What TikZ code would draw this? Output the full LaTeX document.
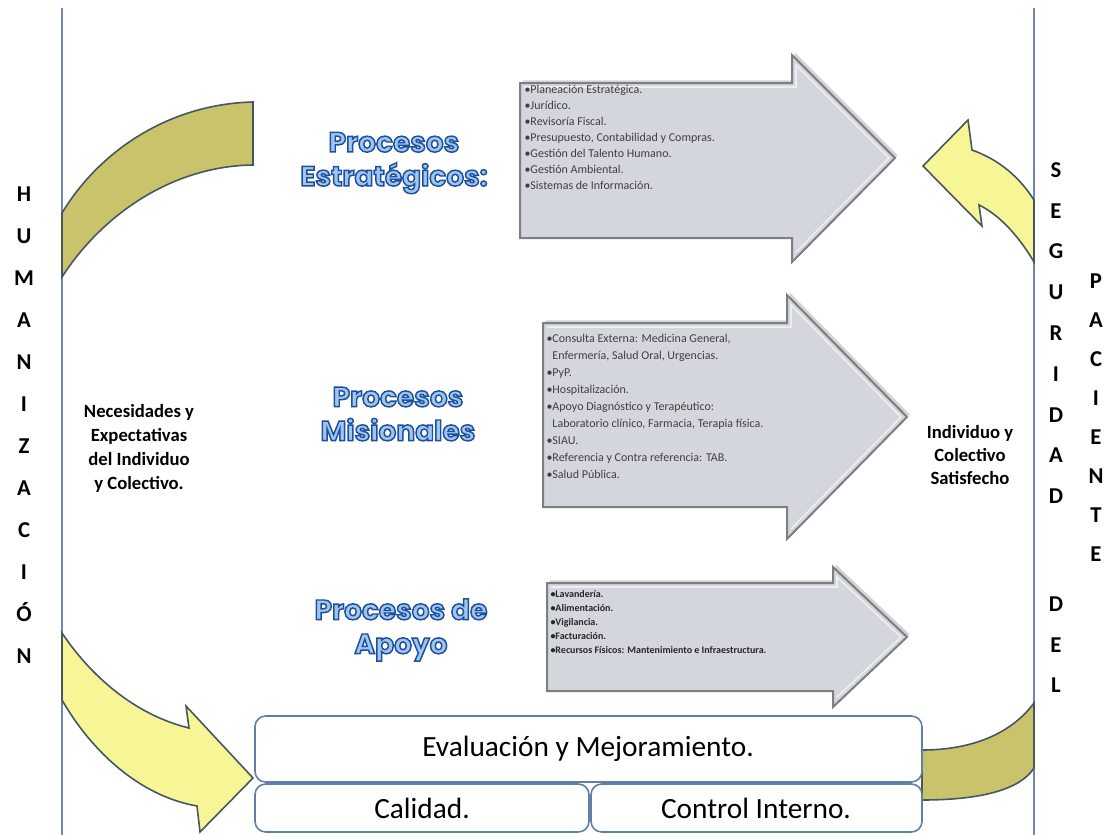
\documentclass[tikz,border=0pt]{standalone}
\usepackage{fontspec}
\setmainfont{Carlito}
\newfontfamily\wordartfont{Poppins}
\usetikzlibrary{shadows}
\tikzset{every picture/.style={line width=0.75pt}}
\definecolor{olivearc}{RGB}{201,195,108}
\definecolor{yellowarr}{RGB}{247,246,150}
\definecolor{arcline}{RGB}{72,86,96}
\definecolor{grayarr}{RGB}{212,214,222}
\definecolor{grayedge}{RGB}{125,125,130}
\definecolor{sideline}{RGB}{110,134,186}
\definecolor{boxline}{RGB}{96,128,168}
\definecolor{titlefill}{RGB}{160,198,238}
% outlined title letters: fill colour, then a dark blue stroke
\newcommand{\wordart}[1]{\textcolor{titlefill}{\special{pdf:literal direct 2 Tr 1.1 w 0.11 0.31 0.62 RG}#1\special{pdf:literal direct 0 Tr}}}

\begin{document}
\begin{tikzpicture}[x=0.75pt,y=0.75pt,yscale=-1,xscale=1]
\useasboundingbox (0,0) rectangle (1107,835);

%Straight Lines: left and right borders
\draw [color=sideline, line width=1.5]   (62,8) -- (62,835) ;
\draw [color=sideline, line width=1.5]   (1034,8) -- (1034,835) ;

%Shape: Block Arc top left
\draw [fill=olivearc, draw=arcline, line width=1.2]   (253,102) .. controls (170,104) and (100,150) .. (62,213) -- (62,277) .. controls (102,215) and (172,166) .. (253,165) -- cycle ;
%Shape: Curved Arrow bottom left
\draw [fill=yellowarr, draw=arcline, line width=1.2]   (62,633) .. controls (95,682) and (140,716) .. (189,728) -- (186,706) -- (253,778) -- (200,832) -- (197,806) .. controls (140,796) and (92,752) .. (62,700) -- cycle ;
%Shape: Curved Arrow top right
\draw [fill=yellowarr, draw=arcline, line width=1.2]   (1034,200) .. controls (1020,178) and (1000,160) .. (972,150) -- (968,120) -- (923,166) -- (982,226) -- (979,205) .. controls (1000,215) and (1020,238) .. (1034,262) -- cycle ;
%Shape: Block Arc bottom right
\draw [fill=olivearc, draw=arcline, line width=1.2]   (1034,703) .. controls (1010,735) and (970,750) .. (922,750) -- (922,800) .. controls (980,800) and (1020,790) .. (1034,768) -- cycle ;

%Shape: Right Arrow 1
\draw [fill=grayarr, draw=grayedge, line width=1.5, drop shadow={opacity=0.35, shadow xshift=2pt, shadow yshift=2pt}]   (520,83) -- (792,83) -- (792,55) -- (895,158) -- (792,262) -- (792,238) -- (520,238) -- cycle ;
\draw [color=white, opacity=0.6, line width=1.2]   (524,87) -- (796,87) -- (796,65) -- (889,158) -- (796,252) ;
%Shape: Right Arrow 2
\draw [fill=grayarr, draw=grayedge, line width=1.5, drop shadow={opacity=0.35, shadow xshift=2pt, shadow yshift=2pt}]   (543,323) -- (787,323) -- (787,295) -- (907,417) -- (787,539) -- (787,507) -- (543,507) -- cycle ;
\draw [color=white, opacity=0.6, line width=1.2]   (547,327) -- (791,327) -- (791,305) -- (901,417) -- (791,529) ;
%Shape: Right Arrow 3
\draw [fill=grayarr, draw=grayedge, line width=1.5, drop shadow={opacity=0.35, shadow xshift=2pt, shadow yshift=2pt}]   (547,583) -- (833,583) -- (833,567) -- (907,637) -- (833,707) -- (833,691) -- (547,691) -- cycle ;
\draw [color=white, opacity=0.6, line width=1.2]   (551,587) -- (837,587) -- (837,577) -- (901,637) -- (837,697) ;

% Text Node: arrow 1 list
\draw (523,84) node [anchor=north west][inner sep=0.75pt]  [font=\fontsize{9}{12}\selectfont, color=black!75] [align=left] (estrList) {\textbullet Planeación Estratégica.\\\textbullet Jurídico.\\\textbullet Revisoría Fiscal.\\\textbullet Presupuesto, Contabilidad y Compras.\\\textbullet Gestión del Talento Humano.\\\textbullet Gestión Ambiental.\\\textbullet Sistemas de Información.};
% Text Node: arrow 2 list
\draw (545,333) node [anchor=north west][inner sep=0.75pt]  [font=\fontsize{9}{12.7}\selectfont, color=black!75] [align=left] (misiList) {\textbullet Consulta Externa: Medicina General,\\\phantom{\textbullet}Enfermería, Salud Oral, Urgencias.\\\textbullet PyP.\\\textbullet Hospitalización.\\\textbullet Apoyo Diagnóstico y Terapéutico:\\\phantom{\textbullet}Laboratorio clínico, Farmacia, Terapia física.\\\textbullet SIAU.\\\textbullet Referencia y Contra referencia: TAB.\\\textbullet Salud Pública.};
% Text Node: arrow 3 list
\draw (549,589) node [anchor=north west][inner sep=0.75pt]  [font=\fontsize{7.5}{10.5}\selectfont\bfseries, color=black!85] [align=left] (apoyoList) {\textbullet Lavandería.\\\textbullet Alimentación.\\\textbullet Vigilancia.\\\textbullet Facturación.\\\textbullet Recursos Físicos: Mantenimiento e Infraestructura.};

% Text Node: titles
\draw (394,163) node [inner sep=0.75pt]  [font=\wordartfont\fontsize{21}{25.5}\selectfont\bfseries] [align=center] (estrTitle) {\wordart{Procesos}\\\wordart{Estratégicos:}};
\draw (398,414) node [inner sep=0.75pt]  [font=\wordartfont\fontsize{21}{25.5}\selectfont\bfseries] [align=center] (misiTitle) {\wordart{Procesos}\\\wordart{Misionales}};
\draw (401,630) node [inner sep=0.75pt]  [font=\wordartfont\fontsize{21}{25.5}\selectfont\bfseries] [align=center] (apoyoTitle) {\wordart{Procesos de}\\\wordart{Apoyo}};

% Text Node: side texts
\draw (139,448) node [inner sep=0.75pt]  [font=\fontsize{14}{18}\selectfont\bfseries] [align=center] (needs) {Necesidades y\\Expectativas\\del Individuo\\y Colectivo.};
\draw (970,455) node [inner sep=0.75pt]  [font=\fontsize{14}{17.5}\selectfont\bfseries] [align=center] (satisfied) {Individuo y\\Colectivo\\Satisfecho};

% Text Node: letter columns
\draw (24,186) node [anchor=north][inner sep=0pt]  [font=\fontsize{17}{31.5}\selectfont\bfseries] [align=center] (humanizacion) {H\\U\\M\\A\\N\\I\\Z\\A\\C\\I\\Ó\\N};
\draw (1056,162) node [anchor=north][inner sep=0pt]  [font=\fontsize{17}{30.6}\selectfont\bfseries] [align=center] (seguridad) {S\\E\\G\\U\\R\\I\\D\\A\\D\\[50pt]D\\E\\L};
\draw (1096,273) node [anchor=north][inner sep=0pt]  [font=\fontsize{17}{29.3}\selectfont\bfseries] [align=center] (paciente) {P\\A\\C\\I\\E\\N\\T\\E};

% Boxes
\draw [draw=boxline, fill=white, rounded corners=8, line width=1.2]   (255,716) rectangle (922,782) ;
\draw [draw=boxline, fill=white, rounded corners=8, line width=1.2]   (255,784) rectangle (589,832) ;
\draw [draw=boxline, fill=white, rounded corners=8, line width=1.2]   (591,784) rectangle (922,832) ;
\draw (588,749) node [inner sep=0.75pt]  [font=\fontsize{22}{26}\selectfont] (evaluacion) {Evaluación y Mejoramiento.};
\draw (422,808) node [inner sep=0.75pt]  [font=\fontsize{22}{26}\selectfont] (calidad) {Calidad.};
\draw (756,808) node [inner sep=0.75pt]  [font=\fontsize{22}{26}\selectfont] (control) {Control Interno.};

\end{tikzpicture}
\end{document}
